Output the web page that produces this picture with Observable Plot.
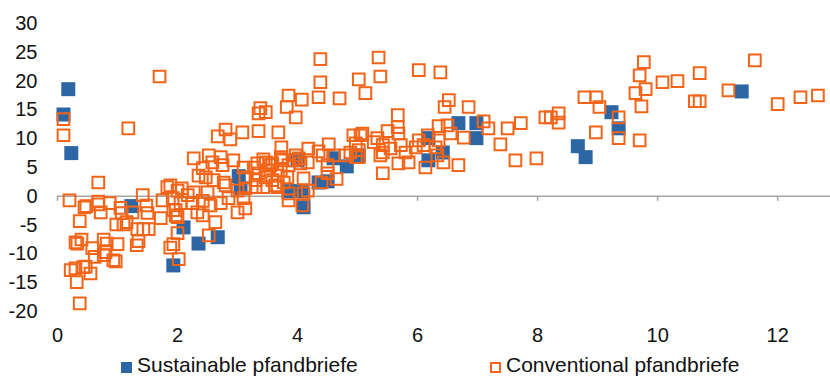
<!DOCTYPE html>
<html><head><meta charset="utf-8">
<script src="https://cdn.jsdelivr.net/npm/d3@7"></script>
<script src="https://cdn.jsdelivr.net/npm/@observablehq/plot@0.6"></script>
<style>
body{margin:0;background:#fff;font-family:"Liberation Sans",Arial,sans-serif;}
#chart{width:830px;height:376px;position:relative;overflow:hidden;}
.leg{position:absolute;top:350px;height:26px;font-size:21px;color:#111;white-space:nowrap;}
.sw{position:absolute;top:12px;width:11px;height:11px;box-sizing:border-box;}
.lt{position:absolute;top:3px;line-height:21px;}
</style></head><body><div id="chart"></div>
<script>
const seriesNames = ["Sustainable pfandbriefe", "Conventional pfandbriefe"];
const sustX = [0.10,0.18,0.23,1.23,1.93,2.10,2.35,2.67,3.02,3.05,3.85,4.07,4.10,4.00,4.35,4.50,4.60,4.82,5.02,6.18,6.18,6.42,6.68,6.98,6.98,8.67,8.80,9.23,9.35,11.40];
const sustY = [14.2,18.6,7.5,-1.7,-12.0,-5.4,-8.2,-7.1,3.5,1.4,0.9,0.9,-1.9,6.25,2.4,2.6,6.6,5.2,7.1,10.1,6.25,7.6,12.7,12.7,10.1,8.7,6.8,14.6,11.8,18.2];
const convX = [
0.10,0.10,1.18,1.70,0.68,0.20,0.48,0.68,0.68,0.87,0.72,0.37,1.07,0.98,1.10,1.42,1.25,1.48,1.50,1.33,1.43,1.52,1.32,1.35,
0.30,0.40,0.33,0.77,0.82,0.77,0.80,1.00,0.97,0.58,0.47,0.55,0.30,0.32,0.37,1.15,0.22,0.43,0.45,0.93,0.62,1.05,
1.72,1.75,1.83,1.92,2.07,1.97,2.00,1.93,2.02,1.97,2.00,1.88,2.05,2.00,1.88,2.17,2.25,2.27,1.93,
2.33,2.42,2.63,2.52,2.72,2.55,2.50,2.35,2.47,2.60,2.77,2.80,2.42,2.58,2.75,2.93,2.52,2.72,2.27,3.10,3.13,3.10,3.13,3.00,3.00,2.42,2.85,
2.80,2.67,2.88,3.08,
3.35,3.68,3.73,3.35,3.47,3.38,3.85,4.07,3.82,3.97,
3.33,3.47,3.55,3.72,3.85,3.97,4.05,3.35,3.47,3.67,3.83,3.30,3.43,3.63,4.10,4.10,3.85,3.85,4.08,4.17,3.77,3.27,3.13,3.30,3.58,3.67,3.75,3.72,3.50,3.93,3.58,3.43,
4.38,4.38,4.35,4.70,5.02,5.35,5.38,5.13,
4.18,4.35,4.02,4.17,4.42,4.60,4.80,4.97,4.50,4.50,4.52,4.93,5.05,5.08,4.97,5.02,4.88,4.40,4.65,5.02,
5.33,5.27,5.42,5.55,5.42,5.72,5.80,6.02,6.17,6.35,5.97,6.10,6.30,6.33,5.38,5.68,5.85,6.13,6.43,6.68,5.42,5.50,5.67,5.68,5.67,6.02,6.38,6.52,6.45,6.85,6.50,6.35,6.55,6.77,
7.10,7.18,7.50,7.72,7.38,7.63,7.98,8.13,8.22,8.35,8.35,8.78,8.98,9.03,8.97,
9.77,9.70,9.80,9.63,9.73,9.35,9.35,9.70,10.08,10.33,10.70,10.62,10.70,11.18,11.62,12.00,12.38,12.67];
const convY = [
13.4,10.6,11.8,20.8,2.4,-0.7,-1.7,-0.9,-1.4,-1.2,-2.8,-4.3,-2.9,-4.9,-4.9,0.2,-2.8,-1.6,-2.9,-5.7,-5.7,-5.7,-8.5,-7.8,
-8.0,-7.5,-8.2,-7.5,-8.2,-10.2,-9.7,-8.3,-11.3,-9.0,-12.2,-13.4,-12.5,-14.9,-18.6,-4.5,-12.8,-12.3,-1.9,-11.1,-10.5,-2.0,
-3.8,-0.7,1.6,-0.3,1.4,-2.4,-3.6,-8.3,-10.9,-3.3,-6.4,-8.9,-1.2,1.0,1.9,0.2,-1.2,0.7,-2.4,
-2.8,-3.3,-4.5,-6.8,-1.2,-1.6,0.7,3.6,3.3,2.8,2.4,1.9,4.9,5.9,5.4,6.25,7.1,6.8,6.6,5.0,1.4,-0.3,-2.1,-2.8,1.0,-0.8,-0.3,
11.6,10.4,9.9,11.1,
11.3,11.1,8.5,14.4,14.6,15.3,17.5,16.8,15.5,13.7,
5.7,5.9,5.4,6.8,5.4,7.1,5.7,4.0,3.3,3.6,3.3,1.6,1.6,1.9,3.1,0.5,0.5,-0.7,-1.6,1.0,2.4,5.0,3.3,2.8,2.8,1.6,6.25,4.5,4.5,6.25,5.7,6.4,
23.8,19.8,17.2,17.0,20.3,24.1,20.8,17.9,
8.3,7.8,6.6,5.9,7.1,7.1,7.1,6.8,5.4,4.0,9.0,10.6,10.6,10.9,9.2,8.0,7.6,2.4,3.0,6.8,
10.1,9.4,8.9,8.3,7.6,8.9,7.6,9.7,10.6,9.7,8.5,8.9,8.5,7.1,7.1,5.7,5.9,5.0,5.9,5.4,4.0,11.3,12.0,10.9,14.1,21.9,21.5,16.7,15.5,15.5,12.3,12.2,10.9,10.2,
13.0,11.8,11.8,12.7,9.0,6.25,6.6,13.7,13.7,14.4,12.8,17.2,17.2,15.5,11.1,
23.3,21.0,18.6,17.9,15.6,13.7,10.1,9.7,19.8,20.0,21.4,16.5,16.5,18.4,23.6,16.0,17.2,17.5];
const xTicks = [0,2,4,6,8,10,12];
const yTicks = [-20,-15,-10,-5,0,5,10,15,20,25,30];

const blue = "#2C66A4", orange = "#F26418";
const sust = sustX.map((x,i)=>({x, y: sustY[i]}));
const conv = convX.map((x,i)=>({x, y: convY[i]}));

const plot = Plot.plot({
  width: 830, height: 350,
  marginLeft: 57, marginRight: 0, marginTop: 23, marginBottom: 39,
  style: {fontSize: "20px", fontFamily: '"Liberation Sans", Arial, sans-serif', color: "#111", background: "#fff"},
  x: {domain: [0, 12.88], ticks: xTicks, tickSize: 0, tickPadding: 16, label: null, tickFormat: d => String(d)},
  y: {domain: [-20, 30], ticks: yTicks, tickSize: 0, tickPadding: 20, label: null, tickFormat: d => String(d)},
  marks: [
    Plot.ruleY([0], {stroke: "#a6a6a6", strokeWidth: 1.6}),
    Plot.ruleX(xTicks, {x: d => d, y1: 0, y2: 0, insetBottom: -5, stroke: "#a6a6a6", strokeWidth: 1.6}),
    Plot.dot(sust, {x: "x", y: "y", symbol: "square", r: 7.9, fill: blue, stroke: "none"}),
    Plot.dot(conv, {x: "x", y: "y", symbol: "square", r: 6.6, fill: "none", stroke: orange, strokeWidth: 2})
  ]
});
const chart = document.getElementById("chart");
chart.appendChild(plot);

const items = [
  {name: seriesNames[0], sx: 121, tx: 137, fill: blue, border: "none"},
  {name: seriesNames[1], sx: 490, tx: 506, fill: "none", border: "2px solid " + orange}
];
for (const it of items) {
  const sw = document.createElement("div");
  sw.className = "leg sw";
  sw.style.left = it.sx + "px";
  sw.style.top = "362px";
  sw.style.background = it.fill === "none" ? "transparent" : it.fill;
  sw.style.border = it.border;
  chart.appendChild(sw);
  const t = document.createElement("div");
  t.className = "leg lt";
  t.style.left = it.tx + "px";
  t.style.top = "354px";
  t.textContent = it.name;
  chart.appendChild(t);
}
</script>
</body></html>
